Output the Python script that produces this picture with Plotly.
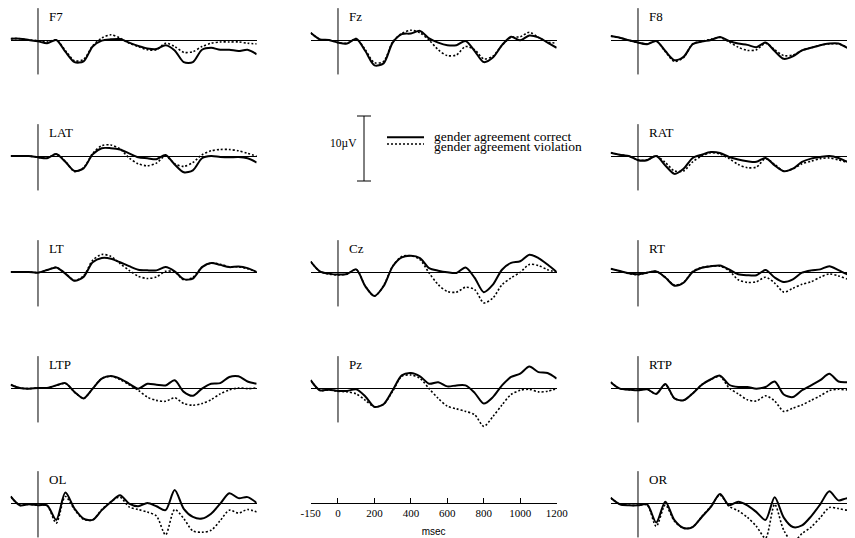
import plotly.graph_objects as go

# ---------------- data (µV, ERP convention: negative plotted up) ----------------
TIME_MS = [-150, -100, -50, 0, 50, 100, 150, 200, 250, 300, 350, 400, 450, 500,
           550, 600, 650, 700, 750, 800, 850, 900, 950, 1000, 1050, 1100, 1150, 1200]

F7_CORRECT = [-0.2, -0.2, 0.0, 0.2, 0.5, 0.0, 1.8, 3.4, 3.3, 1.0, 0.1, -0.1, -0.15, 0.4, 0.9, 1.3, 1.4, 0.8, 1.6, 3.4, 3.4, 1.5, 1.2, 1.5, 1.5, 1.7, 1.5, 2.2]
F7_VIOLATION = [-0.2, -0.2, 0.0, 0.1, 0.3, 0.0, 1.6, 3.2, 3.0, 0.9, -0.3, -0.8, -0.3, 0.5, 1.0, 1.5, 1.5, 0.5, 1.0, 1.9, 1.8, 1.0, 0.5, 0.3, 0.3, 0.3, 0.5, 0.6]
FZ_CORRECT = [-1.1, -0.1, 0.0, 0.4, 0.55, -0.2, 1.7, 3.9, 3.6, 0.4, -0.9, -1.0, -1.4, -0.25, 0.4, 0.8, 0.8, 0.15, 1.7, 3.4, 2.7, 0.8, -0.5, 0.05, -0.7, -0.4, 0.4, 1.2]
FZ_VIOLATION = [-1.1, -0.1, 0.0, 0.4, 0.5, -0.2, 1.5, 3.5, 3.3, 0.3, -1.0, -1.5, -1.1, 0.0, 1.5, 2.4, 2.3, 1.0, 1.5, 2.9, 2.5, 0.8, -0.4, -0.5, -1.2, -0.4, 0.3, 0.5]
F8_CORRECT = [-0.6, -0.35, 0.05, 0.4, 0.65, 0.15, 1.7, 3.1, 2.6, 0.65, 0.25, 0.0, -0.45, 0.15, 0.55, 0.75, 1.1, 0.4, 1.7, 2.9, 2.5, 1.6, 1.2, 0.8, 0.55, 0.55, 1.2, 1.45]
F8_VIOLATION = [-0.6, -0.35, 0.05, 0.4, 0.6, 0.15, 1.8, 3.3, 2.7, 0.6, 0.2, -0.1, -0.4, 0.3, 1.1, 1.6, 1.5, 0.5, 1.5, 2.4, 2.3, 1.6, 1.2, 0.8, 0.6, 0.6, 1.1, 1.4]
LAT_CORRECT = [0.0, 0.0, 0.0, 0.2, 0.35, -0.3, 0.9, 2.3, 1.9, -0.25, -1.2, -1.2, -1.0, -0.4, 0.2, 0.35, 0.5, -0.15, 1.3, 2.5, 2.2, 0.35, 0.0, 0.15, 0.2, 0.15, 0.35, 1.0]
LAT_VIOLATION = [0.0, 0.0, 0.0, 0.2, 0.3, -0.3, 0.8, 2.4, 1.8, -0.4, -1.6, -1.7, -1.1, 0.3, 1.2, 1.5, 1.1, 0.0, 1.2, 1.6, 1.0, -0.2, -0.8, -1.0, -1.0, -0.8, -0.4, 0.0]
RAT_CORRECT = [-0.5, -0.2, 0.0, 0.65, 0.65, 0.0, 1.45, 2.75, 1.95, 0.3, -0.2, -0.6, -0.45, 0.15, 0.55, 0.8, 0.9, 0.3, 1.45, 2.35, 1.95, 0.9, 0.4, 0.15, 0.0, 0.3, 0.9, 1.2]
RAT_VIOLATION = [-0.5, -0.2, 0.0, 0.6, 0.6, 0.0, 1.0, 2.3, 2.3, 0.9, 0.0, -0.5, -0.3, 0.4, 1.3, 1.8, 1.7, 0.4, 1.3, 2.3, 2.0, 1.2, 0.8, 0.4, 0.3, 0.6, 1.0, 1.1]
LT_CORRECT = [0.0, 0.0, 0.0, 0.1, -0.3, -0.7, 0.25, 1.35, 0.75, -1.5, -2.15, -2.05, -1.5, -0.9, -0.35, -0.25, -0.25, -0.75, -0.1, 1.1, 1.0, -0.75, -1.4, -1.1, -0.75, -0.85, -0.6, 0.0]
LT_VIOLATION = [0.0, 0.0, 0.0, 0.1, -0.3, -0.7, 0.2, 1.3, 0.6, -1.8, -2.7, -2.4, -1.3, -0.25, 0.65, 1.0, 0.75, -0.1, 0.0, 1.2, 0.8, -0.7, -1.4, -1.2, -0.8, -0.8, -0.5, 0.0]
CZ_CORRECT = [-1.6, -0.1, 0.25, 0.4, 0.3, -0.4, 2.2, 3.7, 2.2, -0.85, -2.25, -2.5, -2.15, -0.6, -0.2, 0.05, 0.15, -0.7, 0.9, 3.1, 1.95, -0.35, -1.4, -1.65, -2.65, -2.15, -1.15, 0.0]
CZ_VIOLATION = [-1.6, -0.1, 0.3, 0.45, 0.3, -0.4, 2.2, 3.7, 2.1, -0.9, -2.4, -2.5, -1.9, 0.15, 1.95, 3.0, 3.1, 2.35, 2.7, 4.75, 4.0, 1.95, 0.9, 0.05, -1.15, -1.0, -0.35, 0.0]
RT_CORRECT = [-0.5, -0.15, 0.2, 0.35, 0.1, -0.1, 0.85, 2.1, 1.65, 0.0, -0.65, -0.9, -1.0, -0.4, 0.35, 0.5, 0.5, -0.3, 0.85, 1.55, 1.15, 0.1, -0.25, -0.4, -0.9, -0.3, 0.35, 0.5]
RT_VIOLATION = [-0.5, -0.15, 0.25, 0.4, 0.1, -0.1, 0.8, 2.0, 1.6, -0.1, -0.7, -0.9, -0.9, -0.2, 1.2, 1.6, 1.5, 0.8, 1.7, 3.1, 2.5, 1.9, 1.5, 0.8, 0.3, 0.6, 1.1, 1.4]
LTP_CORRECT = [-0.5, 0.0, 0.1, 0.0, 0.0, -0.4, -0.75, 0.6, 1.6, 0.1, -1.45, -1.85, -1.45, -0.65, 0.1, -0.65, -0.5, -0.4, -1.2, 0.6, 1.2, 0.1, -0.65, -0.75, -1.7, -1.8, -1.0, -0.65]
LTP_VIOLATION = [-0.5, 0.0, 0.1, 0.0, 0.0, -0.4, -0.7, 0.6, 1.6, 0.1, -1.5, -1.8, -1.3, -0.5, 0.35, 1.4, 1.9, 2.05, 1.5, 2.4, 2.65, 2.4, 1.8, 0.9, 0.3, 0.0, 0.1, 0.0]
PZ_CORRECT = [-1.2, 0.35, 0.25, 0.45, 0.45, 0.2, 1.3, 2.9, 2.5, 0.35, -1.95, -2.3, -1.8, -0.65, -0.9, -0.25, -0.4, -0.4, 0.75, 2.4, 1.4, -0.4, -1.7, -2.2, -3.3, -2.45, -2.3, -1.45]
PZ_VIOLATION = [-1.2, 0.35, 0.3, 0.5, 0.6, 0.9, 1.9, 2.9, 2.5, 0.5, -1.8, -2.0, -1.5, 0.1, 1.6, 2.8, 3.2, 3.6, 4.1, 5.9, 4.4, 2.6, 1.0, 0.35, 0.2, 0.6, 0.5, 0.1]
RTP_CORRECT = [-0.9, 0.1, 0.25, 0.35, 0.2, 0.9, -0.6, 1.6, 1.9, 0.85, -0.5, -1.35, -1.9, -0.5, -0.15, -0.15, 0.1, -0.15, -1.0, 1.0, 1.4, 0.35, -0.4, -1.2, -2.2, -1.0, -0.9, -0.9]
RTP_VIOLATION = [-0.9, 0.1, 0.25, 0.35, 0.2, 0.9, -0.5, 1.6, 1.9, 0.8, -0.5, -1.3, -1.8, 0.0, 0.9, 1.8, 2.0, 1.2, 2.0, 3.6, 3.1, 2.6, 1.9, 1.2, 0.4, 0.2, 0.3, 0.4]
OL_CORRECT = [-1.0, 0.35, 0.2, 0.35, 0.35, 2.6, -1.6, 0.85, 2.4, 2.6, 1.1, -0.15, -1.2, 0.1, 0.5, 0.0, 0.5, 1.1, -2.0, 0.9, 2.15, 2.4, 1.65, 0.1, -1.5, -0.75, -0.9, 0.0]
OL_VIOLATION = [-1.0, 0.35, 0.2, 0.35, 0.4, 3.1, -1.0, 1.0, 2.5, 2.6, 1.0, -0.2, -0.9, 0.6, 1.0, 1.4, 2.0, 4.9, 1.0, 2.4, 4.3, 4.5, 4.2, 2.7, 1.1, 1.55, 1.0, 1.4]
OR_CORRECT = [-0.8, 0.2, 0.35, 0.35, 0.2, 3.0, -0.2, 2.65, 3.85, 3.7, 2.15, 0.6, -1.4, 0.35, -0.2, 0.35, 1.4, 2.6, -0.9, 2.25, 3.7, 3.45, 2.05, 0.2, -1.8, -0.4, -0.75, -0.15]
OR_VIOLATION = [-0.8, 0.2, 0.35, 0.35, 0.3, 3.6, 0.3, 2.8, 3.9, 3.7, 2.1, 0.5, -1.2, 0.5, 1.2, 2.2, 3.6, 5.4, 0.2, 4.2, 6.0, 4.7, 3.7, 2.25, 0.7, 0.85, 1.1, 0.85]

# electrode name, grid row, grid column, correct, violation
PANELS = [
    ("F7", 0, 0, F7_CORRECT, F7_VIOLATION), ("Fz", 0, 1, FZ_CORRECT, FZ_VIOLATION), ("F8", 0, 2, F8_CORRECT, F8_VIOLATION),
    ("LAT", 1, 0, LAT_CORRECT, LAT_VIOLATION), ("RAT", 1, 2, RAT_CORRECT, RAT_VIOLATION),
    ("LT", 2, 0, LT_CORRECT, LT_VIOLATION), ("Cz", 2, 1, CZ_CORRECT, CZ_VIOLATION), ("RT", 2, 2, RT_CORRECT, RT_VIOLATION),
    ("LTP", 3, 0, LTP_CORRECT, LTP_VIOLATION), ("Pz", 3, 1, PZ_CORRECT, PZ_VIOLATION), ("RTP", 3, 2, RTP_CORRECT, RTP_VIOLATION),
    ("OL", 4, 0, OL_CORRECT, OL_VIOLATION), ("OR", 4, 2, OR_CORRECT, OR_VIOLATION),
]
SCALE_TICKS = [-150, 0, 200, 400, 600, 800, 1000, 1200]
SCALE_UV = 10
LEGEND_LABELS = ["gender agreement correct", "gender agreement violation"]

# ---------------- geometry (reference pixel positions) ----------------
W, H = 855, 538
OFF = 8  # page body margin offset
PX_PER_MS = 246 / 1350
PX_PER_UV = 6.5
COL_T0 = [38, 338, 638]
ROW_BASE = [40, 156, 272, 388, 503]
SERIF = "Liberation Serif, Times New Roman, serif"
SANS = "Liberation Sans, Arial, sans-serif"


def clampx(x):
    return min(max(x - OFF, 0.0), W) + OFF


def clampy(y):
    return min(max(y - OFF, 0.0), H) + OFF


def px(x):
    return (x - OFF) / W


def py(y):
    return 1 - (y - OFF) / H


fig = go.Figure()
layout = {}
annotations = []
shapes = []

for i, (name, row, col, correct, violation) in enumerate(PANELS):
    n = i + 1
    sfx = "" if n == 1 else str(n)
    t0 = COL_T0[col]
    base = ROW_BASE[row]
    x0 = clampx(t0 - 150 * PX_PER_MS)
    x1 = clampx(t0 + 1200 * PX_PER_MS)
    y0 = clampy(base - 45)
    y1 = clampy(base + 55)
    layout["xaxis" + sfx] = dict(
        domain=[px(x0), px(x1)], range=[(x0 - t0) / PX_PER_MS, (x1 - t0) / PX_PER_MS],
        anchor="y" + sfx, visible=False, fixedrange=True, automargin=False)
    layout["yaxis" + sfx] = dict(
        domain=[py(y1), py(y0)], range=[(y1 - base) / PX_PER_UV, (y0 - base) / PX_PER_UV],
        anchor="x" + sfx, showgrid=False, showticklabels=False, ticks="", showline=False,
        zeroline=True, zerolinecolor="black", zerolinewidth=1, fixedrange=True, automargin=False)
    fig.add_trace(go.Scatter(x=TIME_MS, y=violation, mode="lines", xaxis="x" + sfx, yaxis="y" + sfx,
                             line=dict(color="black", width=1.6, dash="2px,2px", shape="spline", smoothing=0.8),
                             name=LEGEND_LABELS[1], showlegend=False))
    fig.add_trace(go.Scatter(x=TIME_MS, y=correct, mode="lines", xaxis="x" + sfx, yaxis="y" + sfx,
                             line=dict(color="black", width=2, shape="spline", smoothing=0.8),
                             name=LEGEND_LABELS[0], showlegend=False))
    shapes.append(dict(type="line", xref="x" + sfx, yref="y" + sfx, x0=0, x1=0, y0=-4.9, y1=5.3,
                       line=dict(color="black", width=1)))
    annotations.append(dict(xref="x" + sfx, yref="y" + sfx, x=52, y=-3.6, text=name, showarrow=False,
                            xanchor="left", yanchor="middle", font=dict(family=SERIF, size=13, color="black")))

# ---- scale bar (10 µV) ----
n = len(PANELS) + 1
sfx = str(n)
bar_x, bar_y = 364, 148.5
layout["xaxis" + sfx] = dict(domain=[px(bar_x - 20), px(bar_x + 20)], range=[-1, 1], anchor="y" + sfx,
                             visible=False, fixedrange=True, automargin=False)
layout["yaxis" + sfx] = dict(domain=[py(bar_y + 45), py(bar_y - 45)],
                             range=[45 / PX_PER_UV, -45 / PX_PER_UV], anchor="x" + sfx,
                             visible=False, fixedrange=True, automargin=False)
fig.add_trace(go.Scatter(x=[0], y=[0], mode="markers", xaxis="x" + sfx, yaxis="y" + sfx,
                         marker=dict(size=1, color="rgba(0,0,0,0)"),
                         error_y=dict(type="constant", value=SCALE_UV / 2, width=7, thickness=1, color="black"),
                         showlegend=False, hoverinfo="skip"))
annotations.append(dict(xref="paper", yref="paper", x=px(359), y=py(143), text=f"{SCALE_UV}µV", showarrow=False,
                        xanchor="right", yanchor="middle", font=dict(family=SERIF, size=11.5, color="black")))

# ---- legend (drawn manually for the tight line spacing of the original) ----
leg_lines = [137.3, 144.0]
leg_text = [136.8, 146.2]
for k, label in enumerate(LEGEND_LABELS):
    shapes.append(dict(type="line", xref="paper", yref="paper", x0=px(387), x1=px(424),
                       y0=py(leg_lines[k]), y1=py(leg_lines[k]),
                       line=dict(color="black", width=2 if k == 0 else 1.3, dash="solid" if k == 0 else "2px,2px")))
    annotations.append(dict(xref="paper", yref="paper", x=px(432), y=py(leg_text[k]), text=label,
                            showarrow=False, xanchor="left", yanchor="middle",
                            font=dict(family=SERIF, size=13.5, color="black")))

# ---- time scale axis ----
n += 1
sfx = str(n)
t0 = COL_T0[1]
sx0 = t0 - 150 * PX_PER_MS
sx1 = t0 + 1200 * PX_PER_MS
layout["xaxis" + sfx] = dict(domain=[px(sx0), px(sx1)], range=[-150, 1200], anchor="y" + sfx,
                             showline=True, linecolor="black", linewidth=1, ticks="inside", ticklen=5,
                             tickcolor="black", tickwidth=1, tickvals=SCALE_TICKS,
                             ticktext=[str(v) for v in SCALE_TICKS], showgrid=False, zeroline=False,
                             tickfont=dict(family=SERIF, size=11, color="black"),
                             title=dict(text="msec", font=dict(family=SANS, size=10, color="black"), standoff=9),
                             fixedrange=True, automargin=False)
layout["yaxis" + sfx] = dict(domain=[py(503), py(480)], range=[0, 1], anchor="x" + sfx, visible=False,
                             fixedrange=True, automargin=False)
fig.add_trace(go.Scatter(x=[None], y=[None], xaxis="x" + sfx, yaxis="y" + sfx, showlegend=False,
                         hoverinfo="skip"))

fig.update_layout(
    template="none",
    width=W, height=H, margin=dict(l=0, r=0, t=0, b=0, pad=0, autoexpand=False),
    paper_bgcolor="white", plot_bgcolor="white", showlegend=False,
    annotations=annotations, shapes=shapes, **layout)

fig.write_html("out.html")
